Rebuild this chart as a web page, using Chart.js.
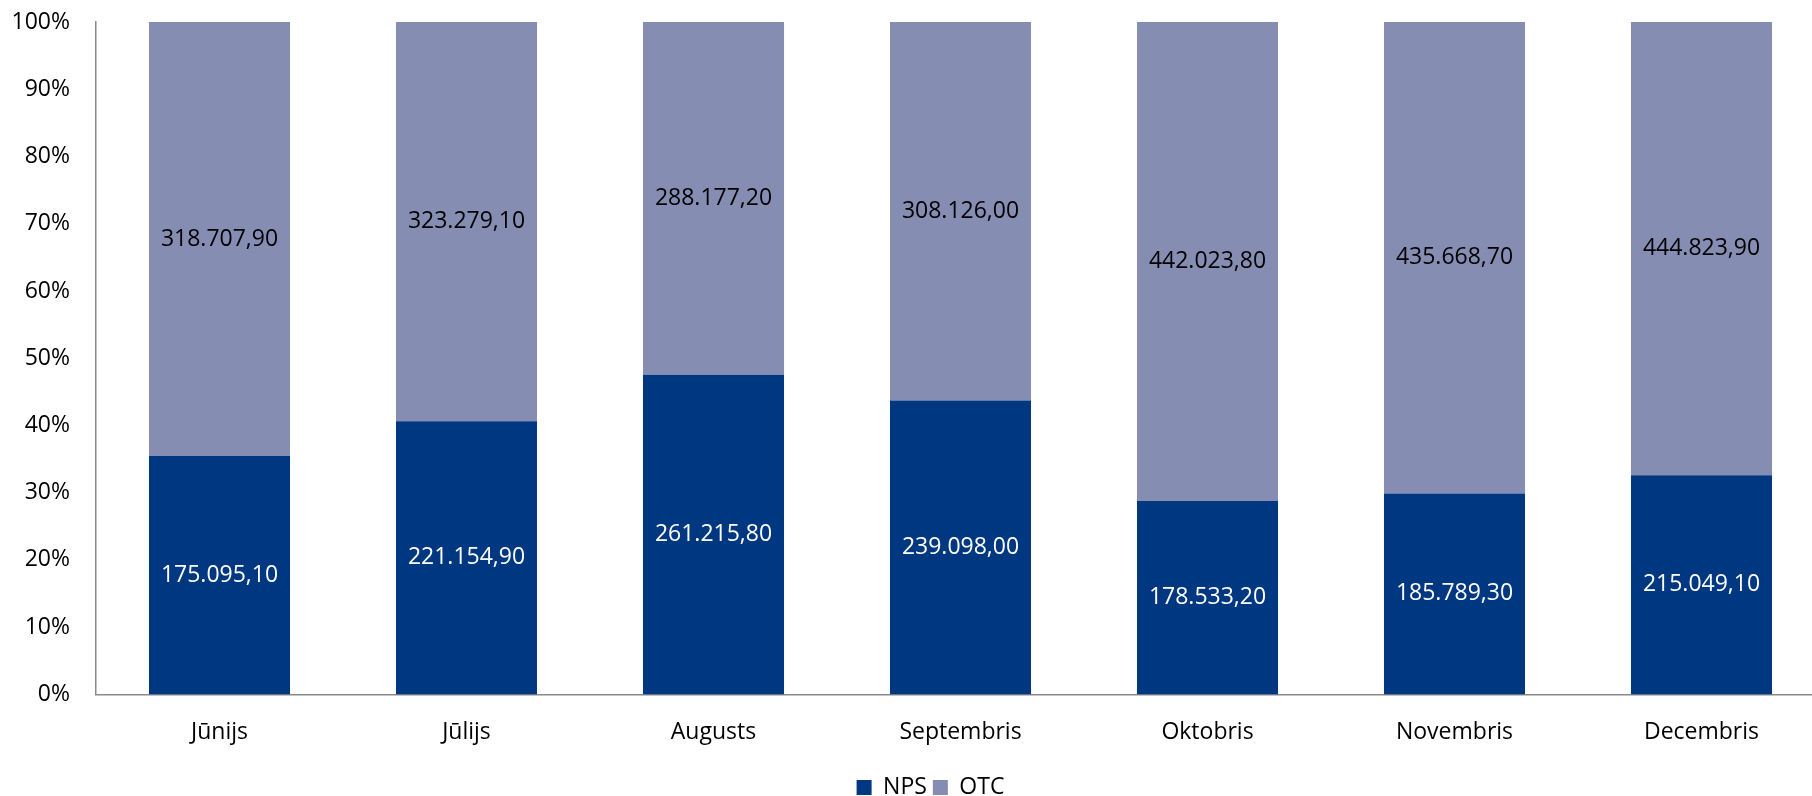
<!DOCTYPE html>
<html>
<head>
<meta charset="utf-8">
<script src="https://cdn.jsdelivr.net/npm/chart.js@4.4.1/dist/chart.umd.min.js"></script>
<style>
  html, body { margin: 0; padding: 0; background: #fff; overflow: hidden; }
  #wrap { width: 1840px; height: 796px; }
</style>
</head>
<body>
<div id="wrap"><canvas id="chart" width="1840" height="796"></canvas></div>
<script>
// Monthly volumes, NPS vs OTC (100% stacked)
const months = ['Jūnijs', 'Jūlijs', 'Augusts', 'Septembris', 'Oktobris', 'Novembris', 'Decembris'];
const npsValues = [175095.10, 221154.90, 261215.80, 239098.00, 178533.20, 185789.30, 215049.10];
const otcValues = [318707.90, 323279.10, 288177.20, 308126.00, 442023.80, 435668.70, 444823.90];
const yTicks = [0, 10, 20, 30, 40, 50, 60, 70, 80, 90, 100];

const NPS_COLOR = '#003781';
const OTC_COLOR = '#858db3';
const FONT = '"Open Sans", "Noto Sans", sans-serif';

// share of each month's total, so bars stack to 100%
const totals = npsValues.map((v, i) => v + otcValues[i]);
const npsShare = npsValues.map((v, i) => v / totals[i] * 100);
const otcShare = otcValues.map((v, i) => v / totals[i] * 100);

// 175095.1 -> "175.095,10"
function formatLv(v) {
  const parts = v.toFixed(2).split('.');
  const whole = parts[0].replace(/\B(?=(\d{3})+(?!\d))/g, '.');
  return whole + ',' + parts[1];
}

// writes the raw value in the middle of every segment
const segmentLabels = {
  id: 'segmentLabels',
  afterDatasetsDraw(chart) {
    const ctx = chart.ctx;
    ctx.save();
    ctx.font = '23px ' + FONT;
    ctx.textAlign = 'center';
    ctx.textBaseline = 'middle';
    chart.data.datasets.forEach((ds, di) => {
      const meta = chart.getDatasetMeta(di);
      meta.data.forEach((bar, i) => {
        const y = (bar.y + bar.base) / 2;
        ctx.fillStyle = ds.labelColor;
        ctx.fillText(formatLv(ds.rawValues[i]), bar.x, y);
      });
    });
    ctx.restore();
  }
};

// nudge the legend a little to the right of the canvas centre
const legendShift = {
  id: 'legendShift',
  afterLayout(chart) {
    if (chart.legend) chart.legend.left += 36;
  }
};

new Chart(document.getElementById('chart'), {
  type: 'bar',
  data: {
    labels: months,
    datasets: [
      {
        label: 'NPS',
        data: npsShare,
        rawValues: npsValues,
        labelColor: '#ffffff',
        backgroundColor: NPS_COLOR,
        categoryPercentage: 1,
        barPercentage: 0.571
      },
      {
        label: 'OTC',
        data: otcShare,
        rawValues: otcValues,
        labelColor: '#000000',
        backgroundColor: OTC_COLOR,
        categoryPercentage: 1,
        barPercentage: 0.571
      }
    ]
  },
  options: {
    responsive: false,
    animation: false,
    layout: { padding: { top: 22, left: 0, right: 15, bottom: -13 } },
    plugins: {
      legend: {
        position: 'bottom',
        labels: {
          font: { family: FONT, size: 23 },
          color: '#000',
          boxWidth: 15,
          boxHeight: 15,
          padding: 6
        }
      },
      tooltip: { enabled: false }
    },
    scales: {
      x: {
        stacked: true,
        grid: { display: false, drawTicks: false },
        border: { display: true, color: '#8a8a8a', width: 1.5 },
        ticks: {
          font: { family: FONT, size: 23 },
          color: '#000',
          padding: 24,
          maxRotation: 0
        }
      },
      y: {
        stacked: true,
        min: 0,
        max: 100,
        afterBuildTicks(axis) {
          axis.ticks = yTicks.map(v => ({ value: v }));
        },
        afterFit(axis) {
          axis.width = 96;
          axis.paddingTop = 0;
          axis.paddingBottom = 0;
        },
        grid: { display: false, drawTicks: false },
        border: { display: true, color: '#8a8a8a', width: 1.5 },
        ticks: {
          font: { family: FONT, size: 23 },
          color: '#000',
          padding: 26,
          callback: v => v + '%'
        }
      }
    }
  },
  plugins: [segmentLabels, legendShift]
});
</script>
</body>
</html>
